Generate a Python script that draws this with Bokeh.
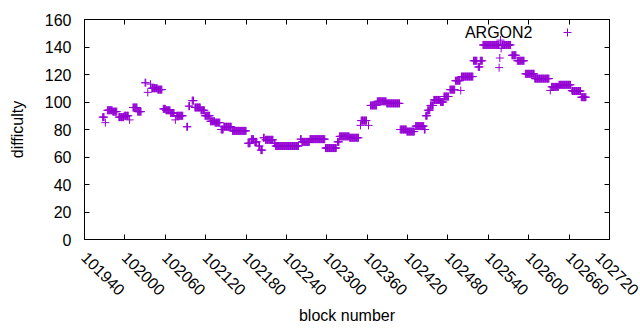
import math
from bokeh.plotting import figure
from bokeh.models import (ColumnDataSource, Range1d, FixedTicker, LinearAxis, Label,
                          BasicTickFormatter, CustomJSTickFormatter, Legend, LegendItem)
from bokeh.embed import file_html
from bokeh.resources import INLINE

# Runs of consecutive blocks sharing one difficulty value
run_first = [101967, 101971, 101974, 101982, 101991, 101999, 102007, 102012, 102019,
             102030, 102034, 102038, 102040, 102049, 102057, 102061, 102068, 102075,
             102077, 102092, 102095, 102100, 102104, 102113, 102119, 102127, 102134,
             102143, 102147, 102160, 102183, 102188, 102193, 102199, 102202, 102206,
             102209, 102222, 102224, 102261, 102263, 102275, 102298, 102316, 102319,
             102334, 102350, 102351, 102362, 102365, 102375, 102389, 102409, 102419,
             102432, 102445, 102447, 102450, 102454, 102459, 102469, 102474, 102483,
             102491, 102499, 102500, 102518, 102525, 102528, 102532, 102556, 102557,
             102558, 102559, 102560, 102575, 102583, 102595, 102609, 102632, 102634,
             102645, 102664, 102665, 102678]
run_last = [101969, 101971, 101981, 101988, 101998, 102005, 102007, 102018, 102024,
            102031, 102034, 102038, 102048, 102055, 102060, 102067, 102073, 102075,
            102086, 102093, 102096, 102102, 102112, 102118, 102126, 102133, 102141,
            102146, 102158, 102180, 102186, 102191, 102196, 102200, 102204, 102207,
            102220, 102223, 102258, 102262, 102274, 102297, 102314, 102318, 102333,
            102347, 102350, 102359, 102362, 102374, 102388, 102408, 102418, 102430,
            102444, 102446, 102449, 102453, 102458, 102468, 102473, 102481, 102490,
            102498, 102499, 102517, 102523, 102527, 102531, 102556, 102556, 102557,
            102558, 102559, 102573, 102581, 102593, 102608, 102630, 102632, 102644,
            102662, 102664, 102677, 102685]
run_difficulty = [89, 85, 94, 93, 89, 90, 87, 96, 93,
                  114, 107, 113, 110, 109, 95, 94, 92, 87,
                  90, 82, 97, 101, 96, 94, 90, 86, 85,
                  80, 82, 79, 70, 73, 71, 68, 65, 74,
                  72.5, 70, 68, 73, 71, 73, 66.5, 71, 75,
                  74, 83, 86.5, 83, 97.5, 100.5, 99, 80, 78.5,
                  82.5, 80, 90, 94, 97.5, 101.5, 100, 104, 109,
                  115.5, 108.4, 118.5, 130, 125.5, 130, 141.5, 125, 132,
                  145, 139, 141.5, 134, 130, 120.5, 117, 108.4, 111,
                  112.5, 108.4, 108, 103.5]

x_tick_values = [101940, 102000, 102060, 102120, 102180, 102240, 102300, 102360,
                 102420, 102480, 102540, 102600, 102660, 102720]
y_tick_values = [0, 20, 40, 60, 80, 100, 120, 140, 160]
series_name = "ARGON2"

blocks, diffs = [], []
for a, b, v in zip(run_first, run_last, run_difficulty):
    for blk in range(a, b + 1):
        blocks.append(blk)
        diffs.append(v)

src = ColumnDataSource(dict(block=blocks, difficulty=diffs))

FONT = "Liberation Sans"
COLOR = "#9400D3"
p = figure(width=640, height=330, output_backend="svg", toolbar_location=None,
           x_range=Range1d(x_tick_values[0], x_tick_values[-1]),
           y_range=Range1d(y_tick_values[0], y_tick_values[-1]),
           x_axis_label="block number", y_axis_label="difficulty",
           min_border_left=84, min_border_right=31, min_border_top=19, min_border_bottom=91)
p.xgrid.grid_line_color = None
p.ygrid.grid_line_color = None
p.outline_line_color = "black"
p.outline_line_width = 1
p.background_fill_color = "white"
p.border_fill_color = "white"

r = p.scatter(x="block", y="difficulty", source=src, marker="cross", size=8,
              line_color=COLOR, line_width=1)

for ax in (p.xaxis[0], p.yaxis[0]):
    ax.major_tick_in = 5
    ax.major_tick_out = 0
    ax.minor_tick_line_color = None
    ax.axis_line_color = "black"
    ax.major_tick_line_color = "black"
    ax.major_label_text_font = FONT
    ax.major_label_text_font_size = "16px"
    ax.major_label_text_color = "black"
    ax.axis_label_text_font = FONT
    ax.axis_label_text_font_size = "16px"
    ax.axis_label_text_font_style = "normal"
    ax.axis_label_text_color = "black"

p.xaxis[0].ticker = FixedTicker(ticks=x_tick_values)
p.xaxis[0].formatter = BasicTickFormatter(use_scientific=False)
p.xaxis[0].major_label_orientation = -math.pi / 4
p.xaxis[0].major_label_standoff = 15
p.xaxis[0].axis_label_standoff = 3
p.yaxis[0].ticker = FixedTicker(ticks=y_tick_values)
p.yaxis[0].major_label_standoff = 13
p.yaxis[0].axis_label_standoff = 16

for side, ticks in (("above", x_tick_values), ("right", y_tick_values)):
    ax = LinearAxis(ticker=FixedTicker(ticks=ticks),
                    formatter=CustomJSTickFormatter(code="return ''"),
                    major_tick_in=5, major_tick_out=0, minor_tick_line_color=None,
                    major_label_text_font_size="0px", major_label_standoff=0,
                    axis_line_color="black", major_tick_line_color="black")
    p.add_layout(ax, side)

# gnuplot-style key: title on the left, sample marker on the right
legend = Legend(items=[LegendItem(label=" ", renderers=[r])],
                location=(473, 197), label_standoff=0, glyph_width=20,
                glyph_height=20, label_height=20, padding=0, margin=0,
                border_line_color=None, background_fill_alpha=0,
                label_text_font=FONT, label_text_font_size="16px")
p.add_layout(legend)
p.add_layout(Label(x=448, y=207, x_units="screen", y_units="screen", text=series_name,
                   text_align="right", text_baseline="middle", text_font=FONT,
                   text_font_size="16px", text_color="black"))

open("out.html", "w").write(file_html(p, INLINE))
